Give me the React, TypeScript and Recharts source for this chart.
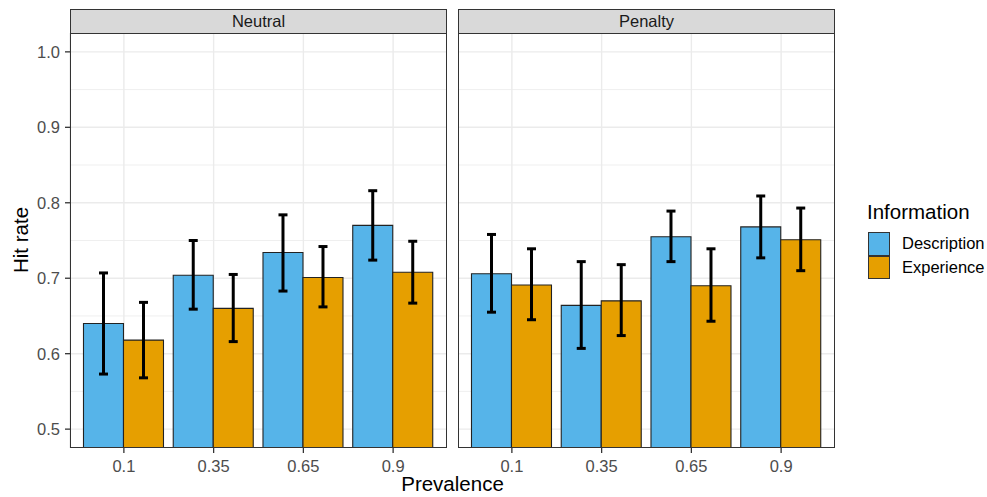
import { BarChart, Bar, XAxis, YAxis, CartesianGrid, ErrorBar } from "recharts"

// Hit rate by prevalence, split by feedback condition (facets) and information source
const prevalence = ["0.1", "0.35", "0.65", "0.9"]
const informationLevels = ["Description", "Experience"]
const COLORS = ["#56B4E9", "#E69F00"]

const neutralDescription = [0.64, 0.704, 0.734, 0.77]
const neutralDescriptionLow = [0.573, 0.659, 0.683, 0.724]
const neutralDescriptionHigh = [0.707, 0.75, 0.784, 0.816]
const neutralExperience = [0.618, 0.66, 0.701, 0.708]
const neutralExperienceLow = [0.568, 0.616, 0.662, 0.667]
const neutralExperienceHigh = [0.668, 0.705, 0.742, 0.749]

const penaltyDescription = [0.706, 0.664, 0.755, 0.768]
const penaltyDescriptionLow = [0.655, 0.607, 0.722, 0.727]
const penaltyDescriptionHigh = [0.758, 0.722, 0.789, 0.809]
const penaltyExperience = [0.691, 0.67, 0.69, 0.751]
const penaltyExperienceLow = [0.645, 0.624, 0.643, 0.71]
const penaltyExperienceHigh = [0.739, 0.718, 0.739, 0.793]

const majorTicks = [0.5, 0.6, 0.7, 0.8, 0.9, 1.0]
const minorTicks = [0.55, 0.65, 0.75, 0.85, 0.95]

const FONT = "'Liberation Sans', Arial, sans-serif"

function buildRows(
  desc: number[], descLow: number[], descHigh: number[],
  exp: number[], expLow: number[], expHigh: number[]
) {
  return prevalence.map((p, i) => ({
    prevalence: p,
    Description: desc[i],
    descErr: [desc[i] - descLow[i], descHigh[i] - desc[i]],
    Experience: exp[i],
    expErr: [exp[i] - expLow[i], expHigh[i] - exp[i]],
  }))
}

const neutralRows = buildRows(
  neutralDescription, neutralDescriptionLow, neutralDescriptionHigh,
  neutralExperience, neutralExperienceLow, neutralExperienceHigh
)
const penaltyRows = buildRows(
  penaltyDescription, penaltyDescriptionLow, penaltyDescriptionHigh,
  penaltyExperience, penaltyExperienceLow, penaltyExperienceHigh
)

const PANEL_W = 377
const PLOT_TOP = 33
const PLOT_BOTTOM = 448

function Panel({ rows, showY, width }: { rows: any[]; showY: boolean; width: number }) {
  return (
    <BarChart
      width={width}
      height={497}
      data={rows}
      margin={{ top: PLOT_TOP, right: 0, bottom: 19, left: 0 }}
      barCategoryGap="5%"
      barGap={0}
    >
      <CartesianGrid
        stroke="#EBEBEB"
        strokeWidth={0.8}
        vertical={false}
        horizontalValues={minorTicks}
      />
      <CartesianGrid stroke="#EBEBEB" strokeWidth={1.4} horizontalValues={majorTicks} />
      <XAxis
        dataKey="prevalence"
        height={30}
        padding={{ left: 9, right: 9 }}
        axisLine={false}
        tickLine={{ stroke: "#333333", strokeWidth: 1.3 }}
        tickSize={5}
        tickMargin={7}
        tick={{ fill: "#4D4D4D", fontSize: 16.5, fontFamily: FONT }}
      />
      <YAxis
        hide={!showY}
        width={70}
        type="number"
        domain={[0.475, 1.025]}
        allowDataOverflow
        ticks={majorTicks}
        tickFormatter={(v: number) => v.toFixed(1)}
        axisLine={false}
        tickLine={{ stroke: "#333333", strokeWidth: 1.3 }}
        tickSize={5}
        tickMargin={5}
        tick={{ fill: "#4D4D4D", fontSize: 16.5, fontFamily: FONT }}
      />
      <Bar dataKey="Description" fill={COLORS[0]} stroke="#222" strokeWidth={1.1} isAnimationActive={false}>
        <ErrorBar dataKey="descErr" width={4.5} stroke="#000" strokeWidth={3} isAnimationActive={false} />
      </Bar>
      <Bar dataKey="Experience" fill={COLORS[1]} stroke="#222" strokeWidth={1.1} isAnimationActive={false}>
        <ErrorBar dataKey="expErr" width={4.5} stroke="#000" strokeWidth={3} isAnimationActive={false} />
      </Bar>
    </BarChart>
  )
}

function Strip({ left, label }: { left: number; label: string }) {
  return (
    <div
      style={{
        position: "absolute",
        left,
        top: 9,
        width: PANEL_W,
        height: PLOT_TOP - 9 + 1,
        boxSizing: "border-box",
        background: "#D9D9D9",
        border: "1px solid #333333",
        color: "#1A1A1A",
        fontSize: 16.5,
        lineHeight: `${PLOT_TOP - 9 - 1}px`,
        textAlign: "center",
      }}
    >
      {label}
    </div>
  )
}

function Frame({ left }: { left: number }) {
  return (
    <div
      style={{
        position: "absolute",
        left,
        top: PLOT_TOP,
        width: PANEL_W,
        height: PLOT_BOTTOM - PLOT_TOP,
        boxSizing: "border-box",
        border: "1.3px solid #333333",
        pointerEvents: "none",
      }}
    />
  )
}

export default function App() {
  const penaltyLeft = 458
  return (
    <div
      style={{
        position: "absolute",
        left: 0,
        top: 0,
        width: 987,
        height: 497,
        background: "#fff",
        fontFamily: FONT,
        overflow: "hidden",
      }}
    >
      <div style={{ position: "absolute", left: 0, top: 0 }}>
        <Panel rows={neutralRows} showY width={70 + PANEL_W} />
      </div>
      <div style={{ position: "absolute", left: penaltyLeft, top: 0 }}>
        <Panel rows={penaltyRows} showY={false} width={PANEL_W} />
      </div>
      <Frame left={70} />
      <Frame left={penaltyLeft} />
      <Strip left={70} label="Neutral" />
      <Strip left={penaltyLeft} label="Penalty" />

      <div
        style={{
          position: "absolute",
          left: 21 - 100,
          top: 240 - 10,
          width: 200,
          height: 20,
          lineHeight: "20px",
          fontSize: 20.5,
          textAlign: "center",
          transform: "rotate(-90deg)",
          color: "#000",
        }}
      >
        Hit rate
      </div>
      <div
        style={{
          position: "absolute",
          left: 70,
          top: 474,
          width: penaltyLeft + PANEL_W - 70,
          lineHeight: "20px",
          fontSize: 20.5,
          textAlign: "center",
          color: "#000",
        }}
      >
        Prevalence
      </div>

      <div style={{ position: "absolute", left: 867, top: 202, fontSize: 20.5, lineHeight: "20px" }}>
        Information
      </div>
      {informationLevels.map((name, i) => (
        <div
          key={name}
          style={{
            position: "absolute",
            left: 868,
            top: 232 + i * 23.5,
            height: 23.5,
            display: "flex",
            alignItems: "center",
          }}
        >
          <div
            style={{
              width: 22,
              height: 23.5,
              boxSizing: "border-box",
              background: COLORS[i],
              border: "1px solid #333333",
            }}
          />
          <span style={{ marginLeft: 12, fontSize: 16.5, color: "#000" }}>{name}</span>
        </div>
      ))}
    </div>
  )
}
